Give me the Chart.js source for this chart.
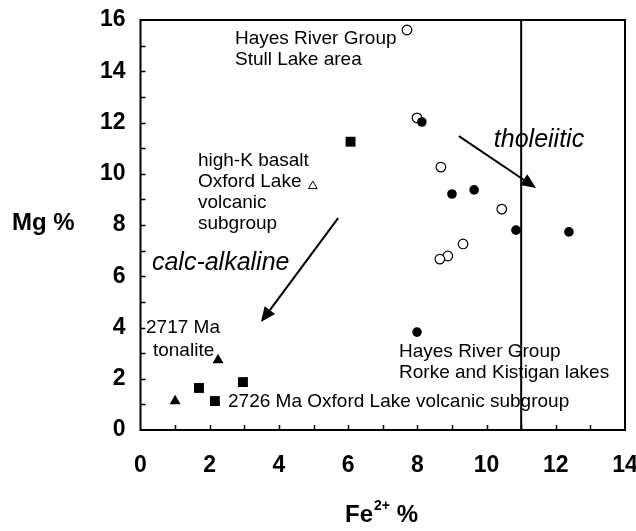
<!DOCTYPE html>
<html>
<head>
<meta charset="utf-8">
<script src="https://cdn.jsdelivr.net/npm/chart.js@4.4.0/dist/chart.umd.min.js"></script>
<style>
  body { margin: 0; background: #fff; }
  #wrap { width: 636px; height: 531px; }
</style>
</head>
<body>
<div id="wrap"><canvas id="c" width="636" height="531"></canvas></div>
<script>
// Hayes River Group, Stull Lake area (open circles)
const stullFe = [7.70, 7.99, 8.68, 10.44, 9.32, 8.88, 8.65];
const stullMg = [15.61, 12.18, 10.26, 8.62, 7.26, 6.79, 6.67];
// Hayes River Group, Rorke and Kistigan lakes (filled circles)
const rorkeFe = [8.13, 9.00, 9.64, 10.85, 12.38, 7.99];
const rorkeMg = [12.02, 9.21, 9.37, 7.80, 7.73, 3.82];
// 2726 Ma Oxford Lake volcanic subgroup (filled squares)
const oxfordFe = [6.07, 1.69, 2.15, 2.96];
const oxfordMg = [11.25, 1.64, 1.13, 1.87];
// 2717 Ma tonalite (filled triangles)
const tonaliteFe = [2.24, 1.00];
const tonaliteMg = [2.73, 1.13];
// high-K basalt (open triangle)
const basaltFe = [4.98];
const basaltMg = [9.52];
// boundary line
const boundaryFe = [11, 11];
const boundaryMg = [0, 16];

const xTicks = [0, 2, 4, 6, 8, 10, 12, 14];
const yTicks = [0, 2, 4, 6, 8, 10, 12, 14, 16];

// trend arrows [from, to] in data units
const tholArrow = [[9.20, 11.47], [11.43, 9.44]];
const calcArrow = [[5.71, 8.27], [3.48, 4.21]];

// text notes: [text, fe, mg, italic]
const notes = [
  ['Hayes River Group', 2.73, 15.06, false],
  ['Stull Lake area', 2.73, 14.24, false],
  ['high-K basalt', 1.66, 10.30, false],
  ['Oxford Lake', 1.66, 9.48, false],
  ['volcanic', 1.66, 8.66, false],
  ['subgroup', 1.66, 7.84, false],
  ['calc-alkaline', 0.33, 6.24, true],
  ['tholeiitic', 10.21, 11.04, true],
  ['2717 Ma', 0.16, 3.79, false],
  ['tonalite', 0.36, 2.89, false],
  ['2726 Ma Oxford Lake volcanic subgroup', 2.53, 0.90, false],
  ['Hayes River Group', 7.47, 2.85, false],
  ['Rorke and Kistigan lakes', 7.47, 2.03, false]
];

const FONT = '"Liberation Sans", Arial, sans-serif';

function pts(xs, ys) {
  return xs.map((x, i) => ({ x: x, y: ys[i] }));
}

function arrow(ctx, x1, y1, x2, y2) {
  const ang = Math.atan2(y2 - y1, x2 - x1);
  const len = 15, half = 6.5;
  const bx = x2 - Math.cos(ang) * len, by = y2 - Math.sin(ang) * len;
  ctx.beginPath();
  ctx.moveTo(x1, y1);
  ctx.lineTo(bx, by);
  ctx.lineWidth = 2;
  ctx.stroke();
  ctx.beginPath();
  ctx.moveTo(x2, y2);
  ctx.lineTo(bx + Math.sin(ang) * half, by - Math.cos(ang) * half);
  ctx.lineTo(bx - Math.sin(ang) * half, by + Math.cos(ang) * half);
  ctx.closePath();
  ctx.fill();
}

const extras = {
  id: 'extras',
  afterDraw(chart) {
    const ctx = chart.ctx;
    const xs = chart.scales.x, ys = chart.scales.y;
    const a = chart.chartArea;
    ctx.save();
    ctx.strokeStyle = '#000';
    ctx.fillStyle = '#000';

    // frame
    ctx.lineWidth = 2;
    ctx.strokeRect(a.left, a.top, a.right - a.left, a.bottom - a.top);

    // inward minor ticks every unit
    ctx.lineWidth = 1.5;
    ctx.beginPath();
    for (let v = 1; v < 14; v++) {
      const px = Math.round(xs.getPixelForValue(v)) + 0.5;
      ctx.moveTo(px, a.bottom);
      ctx.lineTo(px, a.bottom - 5);
    }
    for (let v = 1; v < 16; v++) {
      const py = Math.round(ys.getPixelForValue(v)) + 0.5;
      ctx.moveTo(a.left, py);
      ctx.lineTo(a.left + 5, py);
    }
    ctx.stroke();

    // arrows
    [tholArrow, calcArrow].forEach(ar => {
      arrow(ctx,
        xs.getPixelForValue(ar[0][0]), ys.getPixelForValue(ar[0][1]),
        xs.getPixelForValue(ar[1][0]), ys.getPixelForValue(ar[1][1]));
    });

    // notes
    ctx.textBaseline = 'alphabetic';
    ctx.textAlign = 'left';
    notes.forEach(n => {
      ctx.font = n[3] ? 'italic 25px ' + FONT : '19px ' + FONT;
      ctx.fillText(n[0], xs.getPixelForValue(n[1]), ys.getPixelForValue(n[2]));
    });

    // axis titles
    ctx.font = 'bold 24px ' + FONT;
    ctx.fillText('Mg %', 12, 230);
    let tx = 345;
    ctx.fillText('Fe', tx, 522);
    tx += ctx.measureText('Fe').width;
    ctx.font = 'bold 14px ' + FONT;
    ctx.fillText('2+', tx + 1, 510);
    tx += ctx.measureText('2+').width + 1;
    ctx.font = 'bold 24px ' + FONT;
    ctx.fillText(' %', tx, 522);
    ctx.restore();
  }
};

function fitAxis(size, horizontal) {
  return function (scale) {
    if (horizontal) scale.height = size; else scale.width = size;
    scale.paddingLeft = 0;
    scale.paddingRight = 0;
    scale.paddingTop = 0;
    scale.paddingBottom = 0;
  };
}

new Chart(document.getElementById('c'), {
  type: 'scatter',
  data: {
    datasets: [
      {
        label: 'Hayes River Group Rorke and Kistigan lakes',
        data: pts(rorkeFe, rorkeMg),
        pointStyle: 'circle', pointRadius: 4.8,
        backgroundColor: '#000', borderColor: '#000', borderWidth: 0
      },
      {
        label: 'Hayes River Group Stull Lake area',
        data: pts(stullFe, stullMg),
        pointStyle: 'circle', pointRadius: 4.8,
        backgroundColor: '#fff', borderColor: '#000', borderWidth: 1.2
      },
      {
        label: '2726 Ma Oxford Lake volcanic subgroup',
        data: pts(oxfordFe, oxfordMg),
        pointStyle: 'rect', pointRadius: 7,
        backgroundColor: '#000', borderColor: '#000', borderWidth: 0
      },
      {
        label: '2717 Ma tonalite',
        data: pts(tonaliteFe, tonaliteMg),
        pointStyle: 'triangle', pointRadius: 6.3,
        backgroundColor: '#000', borderColor: '#000', borderWidth: 0
      },
      {
        label: 'high-K basalt',
        data: pts(basaltFe, basaltMg),
        pointStyle: 'triangle', pointRadius: 5,
        backgroundColor: '#fff', borderColor: '#000', borderWidth: 1
      },
      {
        label: 'boundary',
        data: pts(boundaryFe, boundaryMg),
        showLine: true, pointRadius: 0,
        borderColor: '#000', borderWidth: 2
      }
    ]
  },
  options: {
    responsive: false,
    animation: false,
    clip: false,
    layout: { padding: { top: 20, right: 11, left: 0, bottom: 0 } },
    plugins: { legend: { display: false }, tooltip: { enabled: false } },
    scales: {
      x: {
        type: 'linear', min: 0, max: 14,
        afterFit: fitAxis(101, true),
        afterBuildTicks: s => { s.ticks = xTicks.map(v => ({ value: v })); },
        grid: { display: false, drawTicks: false },
        border: { display: false },
        ticks: { color: '#000', padding: 22, font: { family: FONT, size: 23, weight: 'bold' } }
      },
      y: {
        type: 'linear', min: 0, max: 16,
        afterFit: fitAxis(140.5, false),
        afterBuildTicks: s => { s.ticks = yTicks.map(v => ({ value: v })); },
        grid: { display: false, drawTicks: false },
        border: { display: false },
        ticks: { color: '#000', padding: 15, font: { family: FONT, size: 23, weight: 'bold' } }
      }
    }
  },
  plugins: [extras]
});
</script>
</body>
</html>
